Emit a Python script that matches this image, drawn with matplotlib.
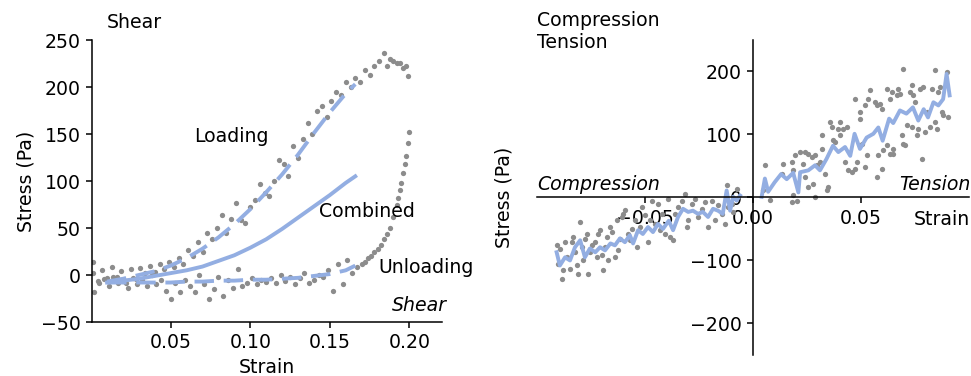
import matplotlib
matplotlib.use("Agg")
import matplotlib.pyplot as plt

## shear loop (left)
load_strain = [0.001,0.004,0.007,0.010,0.013,0.016,0.019,0.022,0.025,0.028,0.031,0.034,0.037,0.040,
               0.043,0.046,0.049,0.052,0.055,0.058,0.061,0.064,0.067,0.070,0.073,0.076,0.079,0.082,
               0.085,0.088,0.091,0.094,0.097,0.100,0.103,0.106,0.109,0.112,0.115,0.118,0.121,0.124,
               0.127,0.130,0.133,0.136,0.139,0.142,0.145,0.148,0.151,0.154,0.157,0.160,0.163,0.166,
               0.169,0.172,0.175,0.178,0.181,0.184,0.186,0.188,0.190,0.192,0.194,0.196,0.198,0.199]
load_stress = [2,-6,5,-3,8,-2,4,-8,6,-4,7,2,10,3,
               12,6,14,8,18,12,27,20,35,24,45,38,50,64,
               45,60,77,58,55,72,80,97,87,84,100,122,118,105,
               137,125,145,162,150,175,180,168,185,195,192,205,200,210,
               205,218,213,222,228,236,222,230,228,226,226,220,222,212]

unload_strain = [0.200,0.199,0.198,0.197,0.196,0.195,0.194,0.193,0.192,0.190,0.188,0.186,0.184,0.182,
                 0.180,0.178,0.176,0.174,0.172,0.170,0.167,0.164,0.161,0.158,0.155,0.152,0.149,0.146,
                 0.143,0.140,0.137,0.134,0.131,0.128,0.125,0.122,0.119,0.116,0.113,0.110,0.107,0.104,
                 0.101,0.098,0.095,0.092,0.089,0.086,0.083,0.080,0.077,0.074,0.071,0.068,0.065,0.062,
                 0.059,0.056,0.053,0.050,0.047,0.044,0.041,0.038,0.035,0.032,0.029,0.026,0.023,0.020,
                 0.017,0.014,0.011,0.008,0.005,0.002,0.001]
unload_stress = [152,140,127,118,108,98,90,82,75,62,50,44,38,32,
                 28,25,20,18,14,12,8,2,16,-10,12,-17,5,-2,
                 0,-5,-8,2,-3,-10,-2,-6,0,-8,-3,-7,-5,-10,
                 -3,-8,-12,6,-14,-5,-22,-2,-15,-25,-10,0,-18,-12,
                 -5,-18,-8,-25,-17,-5,-10,0,-12,-5,-10,-3,-14,-6,
                 -9,-2,-12,-4,-8,-18,14]

fit_strain = [0.01,0.02,0.03,0.04,0.05,0.06,0.07,0.08,0.09,0.10,0.11,0.12,0.13,0.14,0.15,0.16,0.166]
fit_loading = [-7,-4,0,4,10,18,28,40,54,70,88,107,128,151,173,193,203]
fit_unloading = [-8,-8,-8,-8,-8,-7,-7,-6,-6,-5,-5,-4,-3,-1,1,5,10]
fit_combined = [-8,-6,-4,-1,2,5,9,15,21,29,38,49,61,73,85,98,105]

## compression / tension (right)
ten_strain = [0.0055,0.0048,0.0079,0.0140,0.0133,0.0179,0.0187,0.0187,0.0202,0.0179,0.0194,0.0218,0.0233,0.0241,
              0.0256,0.0272,0.0287,0.0241,0.0256,0.0279,0.0287,0.0295,0.0310,0.0318,0.0318,0.0333,0.0349,0.0341,
              0.0356,0.0364,0.0372,0.0380,0.0395,0.0403,0.0403,0.0418,0.0434,0.0426,0.0441,0.0457,0.0472,0.0480,
              0.0472,0.0495,0.0495,0.0503,0.0518,0.0526,0.0534,0.0542,0.0518,0.0565,0.0573,0.0588,0.0596,0.0580,
              0.0573,0.0603,0.0596,0.0619,0.0634,0.0642,0.0619,0.0634,0.0650,0.0650,0.0665,0.0673,0.0681,0.0688,
              0.0696,0.0704,0.0711,0.0696,0.0727,0.0735,0.0742,0.0750,0.0735,0.0758,0.0765,0.0781,0.0773,0.0789,
              0.0796,0.0804,0.0819,0.0827,0.0843,0.0843,0.0850,0.0858,0.0873,0.0881,0.0897,0.0904,0.0866]
ten_stress = [51.8,11.1,-4.8,53.4,37.6,56.1,42.9,3.2,-6.3,-7.4,66.7,72.0,53.4,72.0,
              69.3,64.0,66.7,32.3,16.4,21.7,0.5,50.8,56.1,98.4,77.3,37.6,16.4,11.1,
              119.6,111.6,90.5,87.8,109.0,119.6,98.4,109.0,111.6,56.1,42.9,40.2,45.5,56.1,
              156.6,135.5,124.9,85.2,146.0,66.7,156.6,169.8,48.2,151.3,146.0,148.7,140.7,66.7,
              32.3,74.6,45.5,172.5,156.6,167.2,82.5,69.3,69.3,77.3,161.9,172.5,164.6,98.4,
              85.2,82.5,114.3,204.2,167.2,177.8,161.9,151.3,111.6,98.4,109.0,61.4,172.5,175.1,
              103.7,135.5,111.6,172.5,201.6,119.6,109.0,167.2,135.5,130.2,199.0,127.5,175.1]

comp_strain = [-0.0909,-0.0894,-0.0901,-0.0886,-0.0878,-0.0870,-0.0863,-0.0847,-0.0840,-0.0832,-0.0824,-0.0816,
               -0.0809,-0.0801,-0.0793,-0.0786,-0.0778,-0.0770,-0.0762,-0.0755,-0.0747,-0.0732,-0.0724,-0.0716,
               -0.0708,-0.0701,-0.0693,-0.0685,-0.0678,-0.0670,-0.0662,-0.0654,-0.0639,-0.0631,-0.0623,-0.0616,
               -0.0608,-0.0600,-0.0593,-0.0577,-0.0569,-0.0562,-0.0546,-0.0539,-0.0523,-0.0515,-0.0500,-0.0485,
               -0.0477,-0.0469,-0.0454,-0.0438,-0.0431,-0.0423,-0.0407,-0.0392,-0.0384,-0.0369,-0.0361,-0.0346,
               -0.0330,-0.0315,-0.0307,-0.0299,-0.0284,-0.0269,-0.0253,-0.0238,-0.0222,-0.0207,-0.0191,-0.0176,
               -0.0161,-0.0145,-0.0122,-0.0114,-0.0130,-0.0076,-0.0091,-0.0099]
comp_stress = [-76.2,-81.5,-105.3,-129.1,-115.9,-70.9,-94.7,-113.2,-70.9,-62.9,-86.8,-107.9,
               -121.1,-39.1,-78.8,-100.0,-65.6,-57.7,-121.1,-86.8,-76.2,-70.9,-94.7,-57.7,
               -52.4,-92.0,-115.9,-78.8,-62.9,-100.0,-47.1,-55.0,-94.7,-36.5,-84.1,-65.6,
               -31.2,-25.9,-20.6,-57.7,-68.2,-49.7,-36.5,-78.8,-47.1,-15.3,-28.6,-70.9,
               -36.5,-5.7,-41.8,-10.0,-52.4,-25.9,-57.7,-2.1,-62.9,-68.2,-25.9,-15.3,
               -5.7,5.8,-47.1,-36.5,-10.0,-2.1,-31.2,-18.0,-7.4,-47.1,-5.7,-36.5,
               -12.7,-25.9,19.1,-15.3,-41.8,13.8,-23.3,-10.0]

ten_line_strain = [0.0040,0.0055,0.0070,0.0100,0.0130,0.0156,0.0186,0.0210,0.0218,0.0256,0.0287,0.0310,
                   0.0340,0.0370,0.0395,0.0426,0.0450,0.0470,0.0495,0.0526,0.0557,0.0580,0.0600,0.0630,
                   0.0649,0.0680,0.0710,0.0740,0.0765,0.0790,0.0810,0.0835,0.0858,0.0880,0.0896,0.0910]
ten_line_stress = [1,30,9,24,37,29,39,8,40,43,51,43,
                   61,82,72,80,66,101,77,95,101,111,90,125,
                   118,138,133,143,122,140,127,151,146,156,196,162]

comp_line_strain = [-0.0909,-0.0894,-0.0870,-0.0847,-0.0824,-0.0800,-0.0778,-0.0755,-0.0730,-0.0708,-0.0685,
                    -0.0660,-0.0639,-0.0616,-0.0593,-0.0570,-0.0555,-0.0532,-0.0510,-0.0486,-0.0463,-0.0440,
                    -0.0417,-0.0390,-0.0370,-0.0347,-0.0324,-0.0300,-0.0278,-0.0255,-0.0232,-0.0208,-0.0185,
                    -0.0162,-0.0140,-0.0122,-0.0106,-0.0092,-0.0076,-0.0060]
comp_line_stress = [-87,-108,-95,-100,-79,-68,-95,-81,-87,-79,-84,
                    -73,-76,-65,-71,-60,-73,-52,-58,-47,-55,-42,
                    -50,-37,-52,-31,-18,-23,-21,-26,-23,-31,-18,
                    -21,-26,11,-21,1,-5,3]

blue = '#93aee2'
grey = '#8c8c8c'

plt.rcParams['font.size'] = 13.6
plt.rcParams['axes.linewidth'] = 1.1
plt.rcParams['xtick.major.width'] = 1.1
plt.rcParams['ytick.major.width'] = 1.1
plt.rcParams['xtick.major.size'] = 4.5
plt.rcParams['ytick.major.size'] = 4.5

fig = plt.figure(figsize=(9.71, 3.76), dpi=100)

## 左: shear
ax1 = fig.add_axes([0.0947, 0.1436, 0.3605, 0.75])
ax1.plot(load_strain, load_stress, 'o', ms=3.8, color=grey, mec='none')
ax1.plot(unload_strain, unload_stress, 'o', ms=3.8, color=grey, mec='none')
l1, = ax1.plot(fit_strain, fit_loading, color=blue, lw=2.8, ls='--')
l2, = ax1.plot(fit_strain, fit_unloading, color=blue, lw=2.8, ls='--')
l1.set_dashes([5, 2.5])
l2.set_dashes([5, 2.5])
ax1.plot(fit_strain, fit_combined, color=blue, lw=2.8)
ax1.set_xlim(0.0005, 0.2205)
ax1.set_ylim(-50, 250)
ax1.set_xticks([0.05, 0.10, 0.15, 0.20])
ax1.spines['top'].set_visible(False)
ax1.spines['right'].set_visible(False)
ax1.set_xlabel('Strain')
ax1.set_ylabel('Stress (Pa)')
ax1.text(0.0884, 147, 'Loading', ha='center', va='center')
ax1.text(0.1733, 68, 'Combined', ha='center', va='center')
ax1.text(0.2104, 8, 'Unloading', ha='center', va='center')
ax1.text(0.2236, -32, 'Shear', ha='right', va='center', style='italic')
fig.text(0.110, 0.965, 'Shear', ha='left', va='top')

## 右: compression / tension
ax2 = fig.add_axes([0.553, 0.0559, 0.445, 0.838])
ax2.plot(ten_strain, ten_stress, 'o', ms=3.8, color=grey, mec='none')
ax2.plot(comp_strain, comp_stress, 'o', ms=3.8, color=grey, mec='none')
ax2.plot(ten_line_strain, ten_line_stress, color=blue, lw=2.8)
ax2.plot(comp_line_strain, comp_line_stress, color=blue, lw=2.8)
ax2.set_xlim(-0.1, 0.1)
ax2.set_ylim(-250, 250)
ax2.set_xticks([-0.05, 0.0, 0.05])
ax2.set_yticks([-200, -100, 0, 100, 200])
ax2.spines['left'].set_position(('data', 0))
ax2.spines['bottom'].set_position(('data', 0))
ax2.spines['top'].set_visible(False)
ax2.spines['right'].set_visible(False)
ax2.set_ylabel('Stress (Pa)')
ax2.yaxis.set_label_coords(-0.055, 0.5)
ax2.text(-0.1, 19.8, 'Compression', ha='left', va='center', style='italic')
ax2.text(0.1005, 19.8, 'Tension', ha='right', va='center', style='italic')
ax2.text(0.1005, -35, 'Strain', ha='right', va='center')
fig.text(0.553, 0.971, 'Compression\nTension', ha='left', va='top')

fig.savefig('out.png', dpi=100)
